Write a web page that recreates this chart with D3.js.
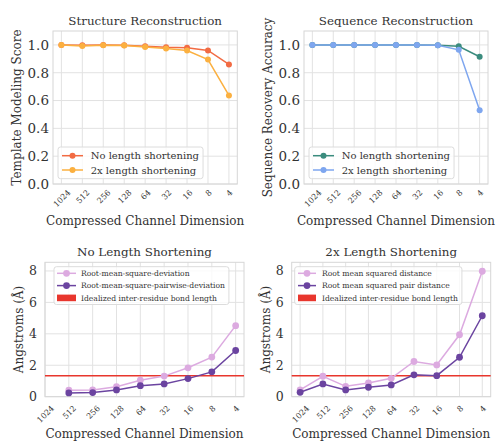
<!DOCTYPE html>
<html>
<head>
<meta charset="utf-8">
<script src="https://cdn.jsdelivr.net/npm/d3@7"></script>
<style>
  body { margin: 0; background: #fff; }
  text { font-family: "DejaVu Serif", serif; fill: #333; }
</style>
</head>
<body>
<div id="chart"></div>
<script>
'use strict';

// categories (compressed channel dimension)
var dims = ["1024", "512", "256", "128", "64", "32", "16", "8", "4"];

// structure reconstruction, TM score
var tmNoShort = [1.0, 0.997, 1.0, 0.998, 0.99, 0.983, 0.98, 0.96, 0.86];
var tm2xShort = [1.0, 0.993, 0.997, 0.995, 0.985, 0.975, 0.96, 0.895, 0.637];

// sequence reconstruction, recovery accuracy
var seqNoShort = [1.0, 1.0, 1.0, 1.0, 1.0, 1.0, 0.998, 0.99, 0.915];
var seq2xShort = [1.0, 1.0, 1.0, 1.0, 1.0, 1.0, 0.998, 0.965, 0.53];

// angstroms, no length shortening (no value at 1024)
var rmsdNoShort = [null, 0.41, 0.43, 0.64, 1.05, 1.31, 1.84, 2.52, 4.52];
var rmspdNoShort = [null, 0.24, 0.26, 0.43, 0.70, 0.81, 1.15, 1.58, 2.94];

// angstroms, 2x length shortening
var rmsd2xShort = [0.43, 1.30, 0.66, 0.87, 1.17, 2.24, 2.02, 3.94, 7.98];
var rmspd2xShort = [0.28, 0.81, 0.43, 0.60, 0.75, 1.39, 1.34, 2.51, 5.15];

var bondLength = 1.33;

var scoreTicks = [0, 0.2, 0.4, 0.6, 0.8, 1.0];
var angTicks = [0, 2, 4, 6, 8];

var xLabel = "Compressed Channel Dimension";

function run() {
  var svg = d3.select("#chart").append("svg")
    .attr("width", 496)
    .attr("height", 443)
    .attr("font-family", "DejaVu Serif");

  drawPanel(svg, {
    box: {left: 53, right: 237.3, top: 31, bottom: 184},
    xdom: [-0.4, 8.4], ydom: [0, 1.1], yticks: scoreTicks, yfmt: d3.format(".1f"),
    title: "Structure Reconstruction", ylabel: "Template Modeling Score",
    ylabelX: 17, yTickFs: 13.5, yPad: 4, xPad: 4, r: 3,
    series: [
      {values: tmNoShort, color: "#f26b43", label: "No length shortening"},
      {values: tm2xShort, color: "#fbb040", label: "2x length shortening"}
    ],
    legend: {x: 58, y: 147, fs: 10, row: 14.3, first: 8.7, textX: 32.7, hx0: 4, hx1: 25}
  });

  drawPanel(svg, {
    box: {left: 304, right: 488, top: 31, bottom: 184},
    xdom: [-0.4, 8.4], ydom: [0, 1.1], yticks: scoreTicks, yfmt: d3.format(".1f"),
    title: "Sequence Reconstruction", ylabel: "Sequence Recovery Accuracy",
    ylabelX: 267.5, yTickFs: 13.5, yPad: 4, xPad: 4, r: 3,
    series: [
      {values: seqNoShort, color: "#3b8c7e", label: "No length shortening"},
      {values: seq2xShort, color: "#7ea6ef", label: "2x length shortening"}
    ],
    legend: {x: 309, y: 147, fs: 10, row: 14.3, first: 8.7, textX: 32.7, hx0: 4, hx1: 25}
  });

  drawPanel(svg, {
    box: {left: 45, right: 244, top: 262.3, bottom: 396.7},
    xdom: [0, 8.35], ydom: [0, 8.55], yticks: angTicks, yfmt: d3.format("d"),
    title: "No Length Shortening", ylabel: "Angstroms (\u00c5)",
    ylabelX: 19, yTickFs: 12.5, yPad: 8, xPad: 7, r: 3.4,
    hline: bondLength,
    series: [
      {values: rmsdNoShort, color: "#dcaae0", label: "Root-mean-square-deviation"},
      {values: rmspdNoShort, color: "#6b44a0", label: "Root-mean-square-pairwise-deviation"}
    ],
    legend: {x: 54, y: 266.7, fs: 7.6, row: 12.3, first: 6.6, textX: 27, hx0: 3, hx1: 22,
             patch: "Idealized inter-residue bond length"}
  });

  drawPanel(svg, {
    box: {left: 291.7, right: 490.7, top: 262.3, bottom: 396.7},
    xdom: [-0.37, 8.37], ydom: [0, 8.55], yticks: angTicks, yfmt: d3.format("d"),
    title: "2x Length Shortening", ylabel: "Angstroms (\u00c5)",
    ylabelX: 266, yTickFs: 12.5, yPad: 8, xPad: 7, r: 3.4,
    hline: bondLength,
    series: [
      {values: rmsd2xShort, color: "#dcaae0", label: "Root mean squared distance"},
      {values: rmspd2xShort, color: "#6b44a0", label: "Root mean squared pair distance"}
    ],
    legend: {x: 294.7, y: 266.7, fs: 7.6, row: 12.3, first: 6.6, textX: 27.3, hx0: 3.3, hx1: 21.3,
             patch: "Idealized inter-residue bond length"}
  });
}

function drawPanel(svg, p) {
  var b = p.box;
  var idx = d3.range(dims.length);

  var x = d3.scaleLinear().domain(p.xdom).range([b.left, b.right]);
  var y = d3.scaleLinear().domain(p.ydom).range([b.bottom, b.top]);

  var g = svg.append("g");

  // grid
  g.selectAll(".vgrid").data(idx).join("line")
    .attr("x1", function(i) { return x(i); })
    .attr("x2", function(i) { return x(i); })
    .attr("y1", b.top).attr("y2", b.bottom)
    .attr("stroke", "#e2e2e2").attr("stroke-width", 1);
  g.selectAll(".hgrid").data(p.yticks).join("line")
    .attr("x1", b.left).attr("x2", b.right)
    .attr("y1", function(d) { return y(d); })
    .attr("y2", function(d) { return y(d); })
    .attr("stroke", "#e2e2e2").attr("stroke-width", 1);

  g.append("rect")
    .attr("x", b.left).attr("y", b.top)
    .attr("width", b.right - b.left).attr("height", b.bottom - b.top)
    .attr("fill", "none").attr("stroke", "#d6d6d6").attr("stroke-width", 1);

  // y axis
  var yAxis = d3.axisLeft(y).tickValues(p.yticks).tickFormat(p.yfmt)
    .tickSize(0).tickPadding(p.yPad);
  var ya = g.append("g").attr("transform", "translate(" + b.left + ",0)").call(yAxis);
  ya.select(".domain").remove();
  ya.attr("font-family", "DejaVu Serif");
  ya.selectAll("text").attr("font-size", p.yTickFs).attr("fill", "#333");

  // x axis, labels rotated 45 deg, centered under tick
  var xAxis = d3.axisBottom(x).tickValues(idx)
    .tickFormat(function(i) { return dims[i]; }).tickSize(0);
  var xa = g.append("g").attr("transform", "translate(0," + b.bottom + ")").call(xAxis);
  xa.select(".domain").remove();
  xa.attr("font-family", "DejaVu Serif");
  var xfs = 8;
  xa.selectAll("text")
    .attr("font-size", xfs).attr("fill", "#333")
    .attr("text-anchor", "middle").attr("y", 0).attr("dy", "0.35em")
    .attr("transform", function() {
      var w = this.getComputedTextLength();
      var off = p.xPad + (w + xfs * 1.1) / (2 * Math.SQRT2);
      return "translate(0," + off + ") rotate(-45)";
    });

  // titles
  g.append("text")
    .attr("x", (b.left + b.right) / 2).attr("y", b.top - 6)
    .attr("text-anchor", "middle").attr("font-size", 11.9)
    .text(p.title);
  g.append("text")
    .attr("transform", "translate(" + p.ylabelX + "," + (b.top + b.bottom) / 2 + ") rotate(-90)")
    .attr("text-anchor", "middle").attr("dy", "0.35em").attr("font-size", 12)
    .text(p.ylabel);
  g.append("text")
    .attr("x", (b.left + b.right) / 2).attr("y", b.bottom + 37)
    .attr("text-anchor", "middle").attr("dy", "0.35em").attr("font-size", 12)
    .text(xLabel);

  // reference line
  if (p.hline != null) {
    g.append("line")
      .attr("x1", b.left).attr("x2", b.right)
      .attr("y1", y(p.hline)).attr("y2", y(p.hline))
      .attr("stroke", "#e8362d").attr("stroke-width", 1.5);
  }

  // series
  var line = d3.line()
    .defined(function(d) { return d != null; })
    .x(function(d, i) { return x(i); })
    .y(function(d) { return y(d); });

  p.series.forEach(function(s) {
    g.append("path")
      .datum(s.values)
      .attr("fill", "none").attr("stroke", s.color).attr("stroke-width", 1.5)
      .attr("d", line);
    g.selectAll(null)
      .data(s.values.map(function(v, i) { return {i: i, v: v}; })
        .filter(function(d) { return d.v != null; }))
      .join("circle")
      .attr("cx", function(d) { return x(d.i); })
      .attr("cy", function(d) { return y(d.v); })
      .attr("r", p.r)
      .attr("fill", s.color);
  });

  drawLegend(g, p);
}

function drawLegend(g, p) {
  var L = p.legend;
  var items = p.series.map(function(s) { return {label: s.label, color: s.color, patch: false}; });
  if (L.patch) items.push({label: L.patch, color: "#e8362d", patch: true});

  var lg = g.append("g").attr("transform", "translate(" + L.x + "," + L.y + ")");
  var frame = lg.append("rect")
    .attr("rx", 2.5).attr("ry", 2.5)
    .attr("fill", "#fff").attr("fill-opacity", 0.8)
    .attr("stroke", "#dcdcdc").attr("stroke-width", 1);

  var maxW = 0;
  items.forEach(function(it, k) {
    var cy = L.first + k * L.row;
    if (it.patch) {
      lg.append("rect")
        .attr("x", L.hx0).attr("y", cy - 3.3)
        .attr("width", L.hx1 - L.hx0).attr("height", 6.6)
        .attr("fill", it.color);
    } else {
      lg.append("line")
        .attr("x1", L.hx0).attr("x2", L.hx1).attr("y1", cy).attr("y2", cy)
        .attr("stroke", it.color).attr("stroke-width", 1.5);
      lg.append("circle")
        .attr("cx", (L.hx0 + L.hx1) / 2).attr("cy", cy).attr("r", p.r)
        .attr("fill", it.color);
    }
    var t = lg.append("text")
      .attr("x", L.textX).attr("y", cy).attr("dy", "0.35em")
      .attr("font-size", L.fs)
      .text(it.label);
    maxW = Math.max(maxW, t.node().getComputedTextLength());
  });

  frame.attr("width", L.textX + maxW + 4)
    .attr("height", L.first * 2 + (items.length - 1) * L.row);
}

document.addEventListener("DOMContentLoaded", run);
</script>
</body>
</html>
